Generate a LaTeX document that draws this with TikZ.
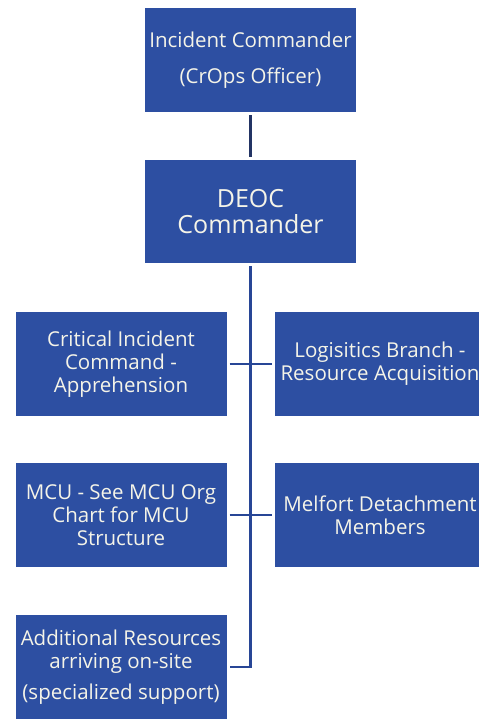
\documentclass[tikz,border=0pt]{standalone}
\usepackage{fontspec}
\setmainfont{Open Sans}
\definecolor{boxblue}{RGB}{45,79,162}
\definecolor{linenavy}{RGB}{35,52,100}
\definecolor{spineblue}{RGB}{40,70,150}
\definecolor{txtcream}{RGB}{245,244,232}

\begin{document}
\begin{tikzpicture}[x=1pt,y=-1pt]
\clip (0,0) rectangle (479,721);
\fill[white] (0,0) rectangle (479,721);

\begin{scope}[every node/.style={rectangle, fill=boxblue, text=txtcream, align=center, inner sep=0pt, minimum width=211pt, minimum height=104pt, font=\fontsize{20.5}{23}\selectfont}]
 \node (ic) at (250.5,60) {Incident Commander\\[13pt](CrOps Officer)};
 \node[minimum height=103pt, font=\fontsize{25}{26}\selectfont] (deoc) at (250.5,211.5) {DEOC\\Commander};
 \node (cic) at (121,364) {Critical Incident\\Command -\\Apprehension};
 \node (log) at (380,364) {Logisitics Branch -\\Resource Acquisition};
 \node (mcu) at (121,515) {MCU - See MCU Org\\Chart for MCU\\Structure};
 \node (mel) at (380,515) {Melfort Detachment\\Members};
 \node (add) at (121,667) {Additional Resources\\arriving on-site\\[8pt](specialized support)};
\end{scope}

\draw[linenavy, line width=3pt, shorten <=3pt, shorten >=3pt] (ic) -- (deoc);

\begin{scope}[spineblue, line width=2.4pt]
 \draw[shorten <=3pt] (deoc.south) -- (deoc.south |- add.east) -- ([xshift=3pt]add.east);
 \draw[shorten <=3pt, shorten >=2pt] (cic.east) -- (log.west);
 \draw[shorten <=3pt, shorten >=2pt] (mcu.east) -- (mel.west);
\end{scope}

\end{tikzpicture}
\end{document}
